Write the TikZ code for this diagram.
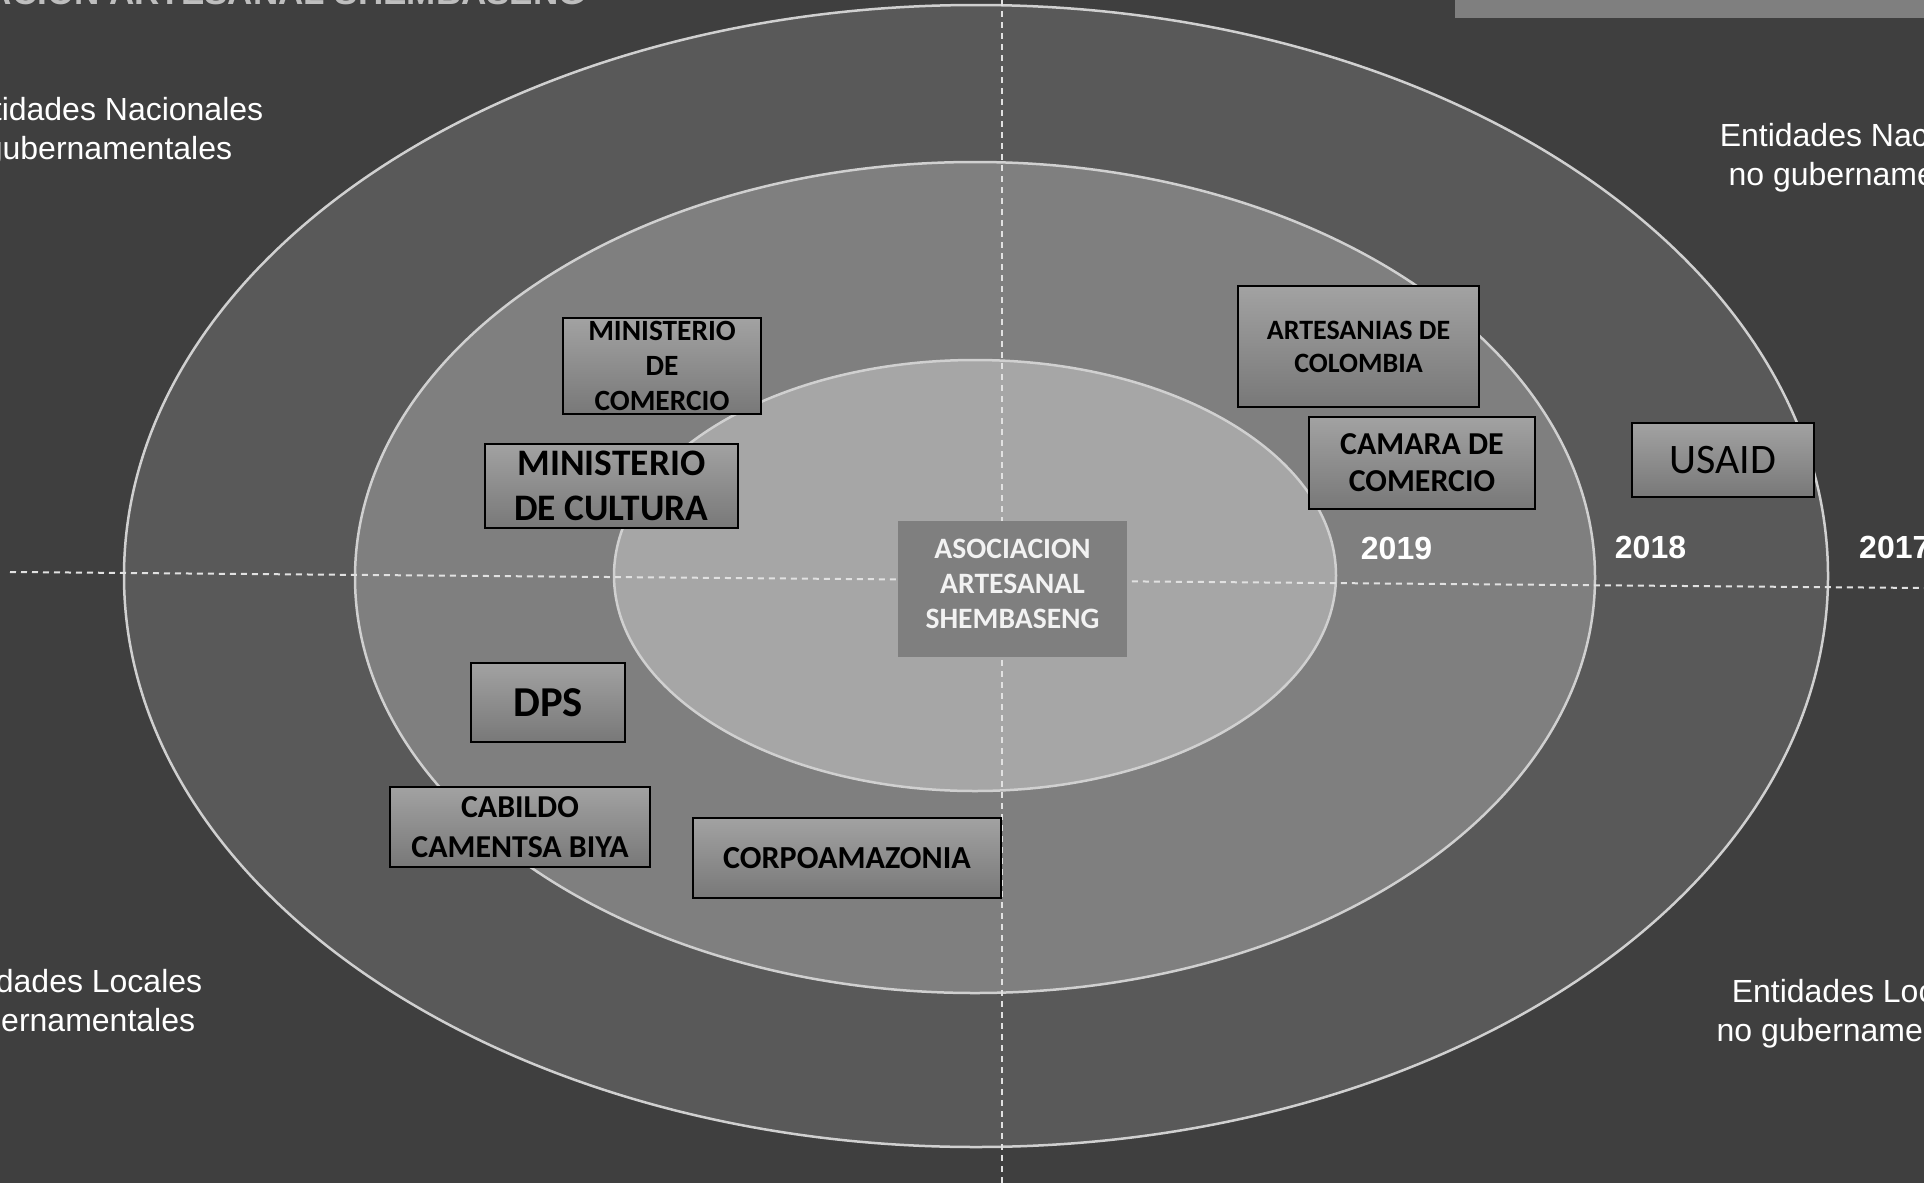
\documentclass[tikz,border=0pt]{standalone}
\usepackage{fontspec}
\setmainfont{Liberation Sans}
\newfontfamily\calibri{Carlito}
\definecolor{bg}{RGB}{63,63,63}
\definecolor{ringA}{RGB}{89,89,89}
\definecolor{ringB}{RGB}{127,127,127}
\definecolor{ringC}{RGB}{166,166,166}
\definecolor{ringline}{RGB}{208,208,208}
\definecolor{axisline}{RGB}{225,225,225}
\definecolor{boxtop}{RGB}{162,162,162}
\definecolor{boxbot}{RGB}{120,120,120}
\definecolor{titlegray}{RGB}{190,190,190}
\begin{document}
\begin{tikzpicture}[x=1pt,y=-1pt,
  ring/.style={draw=ringline, line width=2.5pt},
  axis/.style={draw=axisline, line width=2pt, dash pattern=on 6pt off 5pt},
  orgbox/.style={draw=black, line width=1.5pt, top color=boxtop, bottom color=boxbot,
    inner sep=0pt, align=center, text=black},
  corner/.style={text=white, align=center, inner sep=0pt, font=\fontsize{32}{39}\selectfont},
  year/.style={text=white, inner sep=0pt, font=\bfseries\fontsize{32}{38}\selectfont}
]
\useasboundingbox (0,0) rectangle (1924,1183);
\clip (0,0) rectangle (1924,1183);
\fill[bg] (0,0) rectangle (1924,1183);

% title (cut at the top edge) and grey bar
\node[anchor=base east, inner sep=0pt, text=titlegray, font=\bfseries\fontsize{35}{40}\selectfont] (title) at (586,5) {ASOCIACION ARTESANAL SHEMBASENG};
\fill[ringB] (1455,0) rectangle (1924,17.5);

% rings
\path[ring, fill=ringA] (976,576) ellipse [x radius=852, y radius=571];
\path[ring, fill=ringB] (975,577.5) ellipse [x radius=620, y radius=415.5];
\path[ring, fill=ringC] (975,575.5) ellipse [x radius=361, y radius=215.5];

% axes
\coordinate (hl) at (10,572);
\coordinate (hr) at (1924,588);
\coordinate (vt) at (1002,0);
\coordinate (vb) at (1002,1183);
\draw[axis] (hl) -- (hr);
\draw[axis] (vt) -- (vb);

% corner labels
\node[corner] (tl) at (108.5,131.4) {Entidades Nacionales\\gubernamentales};
\node[corner] (tr) at (1874.5,157.9) {Entidades Nacionales\\no gubernamentales};
\node[corner] (bl) at (71.5,1003.9) {Entidades Locales\\gubernamentales};
\node[corner] (br) at (1862.5,1013.9) {Entidades Locales\\no gubernamentales};

% years
\node[year] (y2019) at (1396.5,548) {2019};
\node[year] (y2018) at (1650.5,547.5) {2018};
\node[year, anchor=west] (y2017) at (1859,547.5) {2017};

% centre
\node[fill=ringB, inner sep=0pt, minimum width=229pt, minimum height=136pt, align=center,
  text={rgb,255:red,242;green,242;blue,242}, font=\calibri\bfseries\fontsize{29.6}{35}\selectfont]
  (asoc) at (1012.5,589) {ASOCIACION\\ARTESANAL\\SHEMBASENG\rule[-10pt]{0pt}{0pt}};

% organisations
\node[orgbox, minimum width=198pt, minimum height=96pt, font=\calibri\bfseries\fontsize{29.4}{35}\selectfont]
  (mincom) at (662,366) {MINISTERIO\\DE\\COMERCIO};
\node[orgbox, minimum width=253pt, minimum height=84pt, font=\calibri\bfseries\fontsize{37.4}{45}\selectfont]
  (mincul) at (611.5,486) {MINISTERIO\\DE CULTURA};
\node[orgbox, minimum width=154pt, minimum height=79pt, font=\calibri\bfseries\fontsize{42.6}{50}\selectfont]
  (dps) at (548,702.5) {DPS};
\node[orgbox, minimum width=260pt, minimum height=80pt, font=\calibri\bfseries\fontsize{31.9}{40}\selectfont]
  (cabildo) at (520,827) {CABILDO\\CAMENTSA BIYA};
\node[orgbox, minimum width=308pt, minimum height=80pt, font=\calibri\bfseries\fontsize{32.1}{38}\selectfont]
  (corpo) at (847,858) {CORPOAMAZONIA};
\node[orgbox, minimum width=241pt, minimum height=121pt, font=\calibri\bfseries\fontsize{28}{33}\selectfont]
  (artcol) at (1358.5,346.5) {ARTESANIAS DE\\COLOMBIA};
\node[orgbox, minimum width=226pt, minimum height=92pt, font=\calibri\bfseries\fontsize{31.9}{37}\selectfont]
  (camara) at (1422,463) {CAMARA DE\\COMERCIO};
\node[orgbox, minimum width=182pt, minimum height=74pt, font=\calibri\fontsize{42}{50}\selectfont]
  (usaid) at (1723,460) {USAID};
\end{tikzpicture}
\end{document}
